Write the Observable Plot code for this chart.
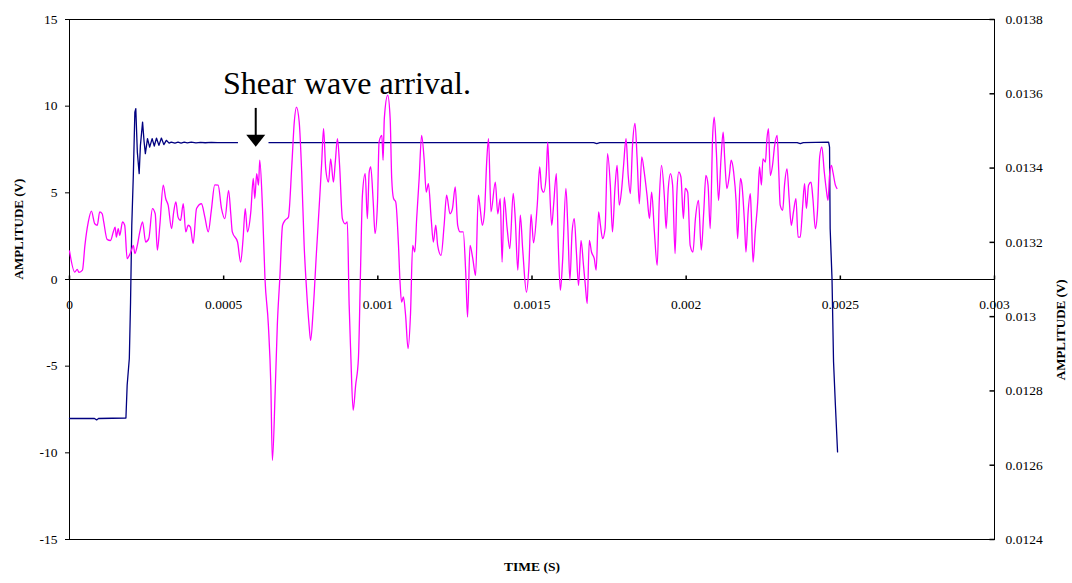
<!DOCTYPE html>
<html>
<head>
<meta charset="utf-8">
<script src="https://cdn.jsdelivr.net/npm/d3@7"></script>
<script src="https://cdn.jsdelivr.net/npm/@observablehq/plot@0.6"></script>
<style>
  html, body { margin: 0; padding: 0; background: #fff; }
  #chart svg { display: block; }
</style>
</head>
<body>
<div id="chart"></div>
<script>
// Excitation pulse (left axis, V)
const pulseTime = [
  0, 0.000081, 0.000088, 0.000094, 0.000183, 0.000187, 0.000194, 0.000198, 0.000202, 0.000207,
  0.000212, 0.000215, 0.00022, 0.000226, 0.00023, 0.000237, 0.000242, 0.000246, 0.000253, 0.00026,
  0.000268, 0.000275, 0.000282, 0.00029, 0.000298, 0.000306, 0.000314, 0.000323, 0.00033, 0.000342,
  0.000352, 0.000362, 0.000372, 0.000382, 0.000395, 0.00041, 0.000425, 0.00044, 0.00046, 0.00048,
  0.0017, 0.00171, 0.00172, 0.00236, 0.00237, 0.00238, 0.002462, 0.002465, 0.002467, 0.002473,
  0.002478, 0.002484, 0.002491
];
const pulseVolts = [
  -8.02, -8.02, -8.10, -8.02, -7.99, -6.10, -4.56, -1.30, 3.13, 6.01,
  9.66, 9.86, 7.35, 6.11, 7.74, 9.08, 7.93, 7.26, 8.13, 7.64,
  8.13, 7.70, 8.16, 7.74, 8.16, 7.78, 8.03, 7.87, 7.93, 7.87,
  7.93, 7.87, 7.92, 7.88, 7.92, 7.88, 7.91, 7.89, 7.91, 7.90,
  7.90, 7.84, 7.90, 7.90, 7.84, 7.90, 7.92, 7.64, 2.94, 0.05,
  -4.76, -7.25, -9.95
];

// Receiver signal (right axis, V)
const receiverTime = [
  0, 0.000017, 0.000025, 0.000031, 0.000042, 0.00005, 0.000061, 0.000071, 0.000082, 0.00009,
  0.000098, 0.000106, 0.000111, 0.000122, 0.000133, 0.000142, 0.000148, 0.000152, 0.000158, 0.000163,
  0.000172, 0.000179, 0.000187, 0.000194, 0.000201, 0.000207, 0.000212, 0.00022, 0.000228, 0.000237,
  0.000247, 0.000257, 0.000269, 0.000278, 0.000285, 0.000293, 0.000304, 0.000312, 0.00032, 0.000331,
  0.000338, 0.000345, 0.000352, 0.00036, 0.000369, 0.000377, 0.000385, 0.000392, 0.000401, 0.000412,
  0.000428, 0.000439, 0.00045, 0.00046, 0.000471, 0.000482, 0.000493, 0.000504, 0.000516, 0.000523,
  0.000528, 0.000545, 0.000555, 0.000563, 0.00057, 0.000577, 0.000588, 0.000596, 0.000601, 0.000607,
  0.000613, 0.000617, 0.000626, 0.000634, 0.000645, 0.000653, 0.000658, 0.000667, 0.000674, 0.000682,
  0.000691, 0.000699, 0.00071, 0.000721, 0.000729, 0.000736, 0.000745, 0.000753, 0.000761, 0.000768,
  0.000777, 0.000782, 0.00079, 0.000801, 0.000812, 0.000818, 0.000824, 0.000831, 0.00084, 0.000847,
  0.000856, 0.000862, 0.000869, 0.000876, 0.000885, 0.000894, 0.000901, 0.000907, 0.000912, 0.00092,
  0.000928, 0.000937, 0.000944, 0.00095, 0.000959, 0.000966, 0.000972, 0.000977, 0.000985, 0.000991,
  0.000999, 0.001004, 0.001013, 0.001017, 0.001021, 0.001032, 0.00104, 0.001045, 0.001051, 0.001058,
  0.001067, 0.001072, 0.001077, 0.001083, 0.00109, 0.001098, 0.001106, 0.001113, 0.00112, 0.001126,
  0.001134, 0.001142, 0.00115, 0.001157, 0.001164, 0.001173, 0.00118, 0.001188, 0.001194, 0.001205,
  0.001215, 0.001223, 0.001234, 0.001242, 0.001251, 0.001259, 0.001267, 0.001277, 0.001285, 0.001291,
  0.001299, 0.001308, 0.001317, 0.001326, 0.001332, 0.001339, 0.001346, 0.001353, 0.001359, 0.001367,
  0.001381, 0.001389, 0.001397, 0.001403, 0.00141, 0.001419, 0.001428, 0.001439, 0.001446, 0.001454,
  0.001462, 0.00147, 0.001482, 0.00149, 0.001497, 0.001505, 0.001517, 0.001525, 0.001531, 0.001538,
  0.001546, 0.001551, 0.001556, 0.001564, 0.00157, 0.001579, 0.001585, 0.001592, 0.001599, 0.00161,
  0.001616, 0.001623, 0.00163, 0.001637, 0.001644, 0.001651, 0.001659, 0.001667, 0.001673, 0.001679,
  0.001686, 0.001693, 0.001702, 0.001708, 0.001716, 0.001722, 0.001729, 0.001737, 0.001745, 0.001754,
  0.001761, 0.001769, 0.001776, 0.001783, 0.001791, 0.001797, 0.001805, 0.001812, 0.001819, 0.001826,
  0.001834, 0.001841, 0.001848, 0.001856, 0.001864, 0.001873, 0.001881, 0.001888, 0.001897, 0.001906,
  0.001913, 0.00192, 0.001929, 0.001935, 0.001942, 0.001949, 0.001956, 0.001964, 0.00197, 0.001976,
  0.001983, 0.001991, 0.001997, 0.002005, 0.002013, 0.002022, 0.00203, 0.00204, 0.002049, 0.002057,
  0.002064, 0.002071, 0.002078, 0.002086, 0.002091, 0.002098, 0.002105, 0.002113, 0.00212, 0.002125,
  0.002132, 0.00214, 0.002146, 0.002154, 0.002162, 0.002167, 0.002176, 0.002181, 0.002189, 0.002194,
  0.002201, 0.002208, 0.002211, 0.002217, 0.002224, 0.002232, 0.002238, 0.002244, 0.002249, 0.002257,
  0.002262, 0.002267, 0.002273, 0.00228, 0.002287, 0.002295, 0.0023, 0.002305, 0.002313, 0.002319,
  0.002327, 0.002334, 0.002341, 0.002348, 0.002356, 0.002363, 0.00237, 0.002378, 0.002384, 0.00239,
  0.002397, 0.002405, 0.002411, 0.002419, 0.002426, 0.002433, 0.00244, 0.002448, 0.002454, 0.00246,
  0.002465, 0.002471, 0.002476, 0.002484, 0.002489
];
const receiverVolts = [
  0.013177, 0.013120, 0.013127, 0.013119, 0.013125, 0.013192, 0.013255, 0.013284, 0.013250, 0.013246,
  0.013282, 0.013277, 0.013255, 0.013208, 0.013205, 0.013228, 0.013241, 0.013214, 0.013237, 0.013219,
  0.013255, 0.013246, 0.013156, 0.013165, 0.013179, 0.013192, 0.013170, 0.013192, 0.013228, 0.013255,
  0.013201, 0.013210, 0.013291, 0.013277, 0.013179, 0.013246, 0.013354, 0.013318, 0.013300, 0.013237,
  0.013282, 0.013309, 0.013268, 0.013259, 0.013304, 0.013228, 0.013246, 0.013241, 0.013197, 0.013291,
  0.013304, 0.013268, 0.013228, 0.013286, 0.013355, 0.013354, 0.013291, 0.013264, 0.013340, 0.013277,
  0.013228, 0.013201, 0.013147, 0.013210, 0.013291, 0.013228, 0.013282, 0.013372, 0.013318, 0.013385,
  0.013354, 0.013421, 0.013291, 0.013102, 0.012977, 0.012815, 0.012613, 0.012797, 0.012977, 0.013102,
  0.013246, 0.013259, 0.013268, 0.013407, 0.013524, 0.013564, 0.013524, 0.013389, 0.013192, 0.013084,
  0.012977, 0.012936, 0.013013, 0.013174, 0.013327, 0.013416, 0.013506, 0.013398, 0.013362, 0.013425,
  0.013362, 0.013416, 0.013479, 0.013407, 0.013264, 0.013250, 0.013255, 0.013031, 0.012905, 0.012748,
  0.012815, 0.012887, 0.013129, 0.013327, 0.013385, 0.013264, 0.013389, 0.013403, 0.013309, 0.013224,
  0.013309, 0.013470, 0.013488, 0.013421, 0.013533, 0.013596, 0.013533, 0.013372, 0.013318, 0.013309,
  0.013192, 0.013093, 0.013039, 0.013053, 0.013004, 0.012914, 0.013008, 0.013192, 0.013174, 0.013264,
  0.013372, 0.013488, 0.013425, 0.013335, 0.013358, 0.013264, 0.013201, 0.013246, 0.013192, 0.013165,
  0.013246, 0.013327, 0.013277, 0.013291, 0.013349, 0.013246, 0.013228, 0.013228, 0.013120, 0.012999,
  0.013192, 0.013156, 0.013111, 0.013327, 0.013291, 0.013246, 0.013282, 0.013416, 0.013479, 0.013282,
  0.013362, 0.013277, 0.013318, 0.013147, 0.013322, 0.013241, 0.013183, 0.013332, 0.013259, 0.013125,
  0.013273, 0.013179, 0.013066, 0.013136, 0.013275, 0.013199, 0.013300, 0.013403, 0.013345, 0.013335,
  0.013380, 0.013470, 0.013372, 0.013246, 0.013300, 0.013385, 0.013201, 0.013071, 0.013147, 0.013345,
  0.013246, 0.013098, 0.013228, 0.013264, 0.013174, 0.013084, 0.013205, 0.013138, 0.013084, 0.013035,
  0.013205, 0.013174, 0.013156, 0.013125, 0.013282, 0.013246, 0.013210, 0.013237, 0.013439, 0.013354,
  0.013228, 0.013345, 0.013407, 0.013300, 0.013345, 0.013407, 0.013479, 0.013380, 0.013331, 0.013461,
  0.013520, 0.013425, 0.013304, 0.013430, 0.013389, 0.013327, 0.013264, 0.013335, 0.013228, 0.013138,
  0.013318, 0.013407, 0.013327, 0.013237, 0.013345, 0.013385, 0.013354, 0.013170, 0.013335, 0.013389,
  0.013376, 0.013264, 0.013345, 0.013335, 0.013192, 0.013174, 0.013264, 0.013313, 0.013179, 0.013282,
  0.013380, 0.013354, 0.013237, 0.013488, 0.013537, 0.013443, 0.013313, 0.013425, 0.013497, 0.013425,
  0.013345, 0.013380, 0.013421, 0.013389, 0.013309, 0.013210, 0.013372, 0.013354, 0.013255, 0.013174,
  0.013282, 0.013331, 0.013282, 0.013147, 0.013228, 0.013309, 0.013403, 0.013354, 0.013425, 0.013416,
  0.013479, 0.013506, 0.013380, 0.013407, 0.013461, 0.013488, 0.013398, 0.013300, 0.013286, 0.013354,
  0.013398, 0.013318, 0.013246, 0.013282, 0.013318, 0.013214, 0.013214, 0.013300, 0.013358, 0.013291,
  0.013354, 0.013362, 0.013318, 0.013237, 0.013286, 0.013430, 0.013457, 0.013389, 0.013345, 0.013313,
  0.013380, 0.013407, 0.013389, 0.013354, 0.013345
];

// Axis ticks
const timeTicks = [0, 0.0005, 0.001, 0.0015, 0.002, 0.0025, 0.003];
const leftTicks = [-15, -10, -5, 0, 5, 10, 15];
const rightTicks = [0.0124, 0.0126, 0.0128, 0.013, 0.0132, 0.0134, 0.0136, 0.0138];
const leftDomain = [-15, 15];
const rightDomain = [0.0124, 0.0138];

// Annotation
const noteText = "Shear wave arrival.";
const noteTime = 0.000498;
const noteVolts = 10.68;
const arrowTime = 0.000604;
const arrowTop = 9.87;
const arrowTip = 7.66;
const clearTime = [0.000548, 0.000647];
const clearVolts = [7.3, 8.5];

// Map right-axis volts onto the left-axis scale
const toLeft = v => leftDomain[0] +
  (v - rightDomain[0]) / (rightDomain[1] - rightDomain[0]) * (leftDomain[1] - leftDomain[0]);
const fromLeft = d => rightDomain[0] +
  (d - leftDomain[0]) / (leftDomain[1] - leftDomain[0]) * (rightDomain[1] - rightDomain[0]);

const pulse = pulseTime.map((t, i) => ({t, v: pulseVolts[i]}));
const receiver = receiverTime.map((t, i) => ({t, v: toLeft(receiverVolts[i])}));

// Small custom symbols: upward tick, inward tick, filled arrowhead
const tickUp = {draw(ctx) { ctx.moveTo(0, 0); ctx.lineTo(0, -4); }};
const tickIn = {draw(ctx) { ctx.moveTo(0, 0); ctx.lineTo(-5, 0); }};
const arrowHead = {draw(ctx) { ctx.moveTo(-9.5, -12); ctx.lineTo(9.5, -12); ctx.lineTo(0, 0); ctx.closePath(); }};

const serif = "'Liberation Serif', 'Times New Roman', serif";

const chart = Plot.plot({
  width: 1072,
  height: 583,
  marginLeft: 69,
  marginRight: 78,
  marginTop: 19,
  marginBottom: 44,
  style: {fontFamily: serif, fontSize: "13.5px", background: "#fff", color: "#000"},
  x: {domain: [0, 0.003], axis: null},
  y: {domain: leftDomain, axis: null},
  marks: [
    Plot.frame({stroke: "#000", strokeWidth: 1}),
    Plot.ruleY([0], {stroke: "#000", strokeWidth: 1}),

    // Left axis
    Plot.axisY(leftTicks, {anchor: "left", tickSize: 4, tickPadding: 8, label: null,
      tickFormat: d => String(d), fontSize: 13.5}),
    // Right axis
    Plot.dot(rightTicks, {frameAnchor: "right", y: d => toLeft(d), symbol: tickIn, stroke: "#000", fill: "none"}),
    Plot.text(rightTicks, {frameAnchor: "right", y: d => toLeft(d), dx: 11, textAnchor: "start",
      text: d => String(+fromLeft(toLeft(d)).toFixed(4)), fontSize: 13.5}),
    // Time axis on the zero line
    Plot.dot(timeTicks, {x: d => d, y: () => 0, symbol: tickUp, stroke: "#000", fill: "none"}),
    Plot.text(timeTicks, {x: d => d, y: () => 0, dy: 25, text: d => String(d), fontSize: 13.5}),

    // Axis titles
    Plot.text(["AMPLITUDE (V)"], {frameAnchor: "left", dx: -51, rotate: -90, text: d => d,
      fontWeight: "bold", fontSize: 13}),
    Plot.text(["AMPLITUDE (V)"], {frameAnchor: "right", dx: 66, rotate: -90, text: d => d,
      fontWeight: "bold", fontSize: 13}),
    Plot.text(["TIME (S)"], {frameAnchor: "bottom", dy: 31, text: d => d,
      fontWeight: "bold", fontSize: 13.5}),

    // Pulse
    Plot.line(pulse, {x: "t", y: "v", stroke: "#000080", strokeWidth: 1.3}),
    // Cleared area behind the arrow
    Plot.rect([0], {x1: () => clearTime[0], x2: () => clearTime[1],
      y1: () => clearVolts[0], y2: () => clearVolts[1], fill: "#fff"}),
    // Receiver signal
    Plot.line(receiver, {x: "t", y: "v", stroke: "#ff00ff", strokeWidth: 1.3, curve: "monotone-x"}),

    // Annotation
    Plot.ruleX([arrowTime], {x: d => d, y1: () => arrowTop, y2: () => arrowTip + 0.6,
      stroke: "#000", strokeWidth: 2}),
    Plot.dot([arrowTime], {x: d => d, y: () => arrowTip, symbol: arrowHead, fill: "#000", stroke: "none"}),
    Plot.text([noteText], {x: () => noteTime, y: () => noteVolts, text: d => d,
      textAnchor: "start", lineAnchor: "bottom", fontSize: 32, fill: "#000"})
  ]
});

document.getElementById("chart").appendChild(chart);
</script>
</body>
</html>
